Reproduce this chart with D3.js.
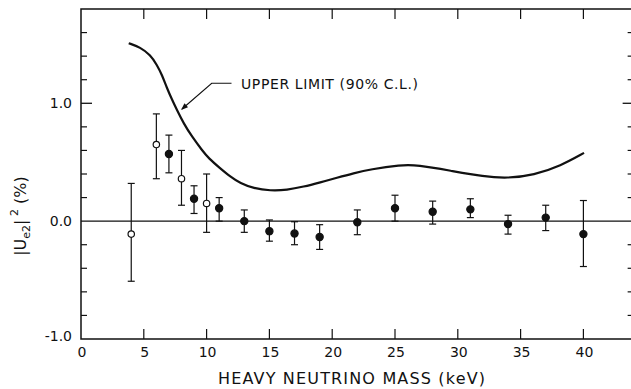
<!DOCTYPE html>
<html>
<head>
<meta charset="utf-8">
<script src="https://cdn.jsdelivr.net/npm/d3@7"></script>
<style>
  body { margin: 0; background: #fff; }
  text { font-family: "DejaVu Sans", sans-serif; fill: #111; }
</style>
</head>
<body>
<div id="plot"></div>
<script>
// Data
const masses = [4, 6, 7, 8, 9, 10, 11, 13, 15, 17, 19, 22, 25, 28, 31, 34, 37, 40];
const values = [-0.11, 0.65, 0.57, 0.36, 0.19, 0.15, 0.11, 0.0, -0.085, -0.105, -0.135, -0.01, 0.11, 0.08, 0.10, -0.025, 0.03, -0.11];
const errTop = [0.32, 0.91, 0.73, 0.60, 0.30, 0.40, 0.20, 0.095, 0.01, -0.005, -0.03, 0.095, 0.22, 0.17, 0.19, 0.05, 0.135, 0.175];
const errBot = [-0.51, 0.36, 0.41, 0.135, 0.065, -0.095, 0.0, -0.095, -0.17, -0.20, -0.24, -0.115, 0.0, -0.025, 0.03, -0.11, -0.08, -0.385];
const openPoint = [true, true, false, true, false, true, false, false, false, false, false, false, false, false, false, false, false, false];

// 90% C.L. upper limit curve
const limitMass = [3.8, 4.72, 5.52, 6.05, 6.45, 6.85, 7.25, 7.64, 8.17, 8.84, 9.63, 10.16, 11.09, 11.89, 12.68, 13.74, 15.07, 16.4, 17.72, 19.05, 20.38, 21.7, 23.03, 25.44, 26.77, 29.43, 32.08, 33.94, 36.06, 38.2, 40.05];
const limitValue = [1.51, 1.475, 1.41, 1.325, 1.24, 1.127, 1.03, 0.943, 0.83, 0.716, 0.603, 0.533, 0.448, 0.377, 0.321, 0.278, 0.258, 0.264, 0.292, 0.329, 0.368, 0.406, 0.44, 0.477, 0.477, 0.428, 0.378, 0.363, 0.391, 0.47, 0.579];

const xTicks = [0, 5, 10, 15, 20, 25, 30, 35, 40];
const yMinor = [-0.8, -0.6, -0.4, -0.2, 0.2, 0.4, 0.6, 0.8, 1.2, 1.4, 1.6];
const yLabels = [-1.0, 0.0, 1.0];

const width = 631, height = 389;
const plotLeft = 81, plotTop = 9, plotBottom = 339;

const x = d3.scaleLinear().domain([0, 44]).range([plotLeft, plotLeft + 44 * 12.56]);
const y = d3.scaleLinear().domain([-1, 1.8]).range([plotBottom, plotTop]);
const plotRight = x(44);

const svg = d3.select("#plot").append("svg")
    .attr("width", width)
    .attr("height", height);

// frame
svg.append("path")
    .attr("d", `M${plotLeft},${plotBottom}V${plotTop}H${plotRight}V${plotBottom}Z`)
    .attr("fill", "none")
    .attr("stroke", "#111")
    .attr("stroke-width", 1.5);

// zero line
svg.append("line")
    .attr("x1", plotLeft).attr("x2", plotRight)
    .attr("y1", y(0)).attr("y2", y(0))
    .attr("stroke", "#111").attr("stroke-width", 1.1);

// x ticks, top and bottom, pointing inward
const xt = xTicks.filter(d => d > 0);
svg.selectAll(".xb").data(xt).enter().append("line")
    .attr("x1", d => x(d)).attr("x2", d => x(d))
    .attr("y1", plotBottom).attr("y2", plotBottom - 10)
    .attr("stroke", "#111").attr("stroke-width", 1.2);
svg.selectAll(".xt").data(xt).enter().append("line")
    .attr("x1", d => x(d)).attr("x2", d => x(d))
    .attr("y1", plotTop).attr("y2", plotTop + 10)
    .attr("stroke", "#111").attr("stroke-width", 1.2);

svg.selectAll(".xl").data(xTicks).enter().append("text")
    .attr("x", d => x(d) + 1)
    .attr("y", 357)
    .attr("text-anchor", "middle")
    .style("font-size", "14px")
    .text(d => d);

// y ticks, left and right
svg.selectAll(".yl").data(yMinor).enter().append("line")
    .attr("x1", plotLeft).attr("x2", plotLeft + 6)
    .attr("y1", d => y(d)).attr("y2", d => y(d))
    .attr("stroke", "#111").attr("stroke-width", 1.2);
svg.selectAll(".yr").data(yMinor).enter().append("line")
    .attr("x1", plotRight).attr("x2", plotRight - 6)
    .attr("y1", d => y(d)).attr("y2", d => y(d))
    .attr("stroke", "#111").attr("stroke-width", 1.2);
[1.0].forEach(v => {
    svg.append("line").attr("x1", plotLeft).attr("x2", plotLeft + 11)
        .attr("y1", y(v)).attr("y2", y(v)).attr("stroke", "#111").attr("stroke-width", 1.3);
    svg.append("line").attr("x1", plotRight).attr("x2", plotRight - 11)
        .attr("y1", y(v)).attr("y2", y(v)).attr("stroke", "#111").attr("stroke-width", 1.3);
});

svg.selectAll(".ylab").data(yLabels).enter().append("text")
    .attr("x", 72)
    .attr("y", d => (d === -1 ? y(d) - 3 : y(d)) + 5)
    .attr("text-anchor", "end")
    .style("font-size", "14px")
    .text(d => (d < 0 ? "-" : "") + Math.abs(d).toFixed(1));

// upper limit curve
const line = d3.line()
    .x((d, i) => x(limitMass[i]))
    .y(d => y(d))
    .curve(d3.curveBasis);
svg.append("path")
    .datum(limitValue)
    .attr("d", line)
    .attr("fill", "none")
    .attr("stroke", "#111")
    .attr("stroke-width", 2.2);

// error bars
const pts = masses.map((m, i) => ({ m, v: values[i], hi: errTop[i], lo: errBot[i], open: openPoint[i] }));
const bars = svg.append("g").attr("stroke", "#111").attr("stroke-width", 1.2);
pts.forEach(d => {
    bars.append("line").attr("x1", x(d.m)).attr("x2", x(d.m)).attr("y1", y(d.hi)).attr("y2", y(d.lo));
    bars.append("line").attr("x1", x(d.m) - 3.5).attr("x2", x(d.m) + 3.5).attr("y1", y(d.hi)).attr("y2", y(d.hi));
    bars.append("line").attr("x1", x(d.m) - 3.5).attr("x2", x(d.m) + 3.5).attr("y1", y(d.lo)).attr("y2", y(d.lo));
});

svg.selectAll(".pt").data(pts).enter().append("circle")
    .attr("cx", d => x(d.m))
    .attr("cy", d => y(d.v))
    .attr("r", d => d.open ? 3.2 : 3.6)
    .attr("fill", d => d.open ? "#fff" : "#111")
    .attr("stroke", "#111")
    .attr("stroke-width", 1.2);

// annotation
svg.append("path")
    .attr("d", "M231.5,83.3H211.7L182,109")
    .attr("fill", "none")
    .attr("stroke", "#111")
    .attr("stroke-width", 1.1);
svg.append("path")
    .attr("d", "M181,110L184.5,103.2L188,107.2Z")
    .attr("fill", "#111");
svg.append("text")
    .attr("x", 241)
    .attr("y", 88.5)
    .attr("textLength", 177)
    .style("font-size", "14px")
    .text("UPPER LIMIT (90% C.L.)");

// axis titles
svg.append("text")
    .attr("x", 218)
    .attr("y", 384)
    .attr("textLength", 267)
    .style("font-size", "16px")
    .text("HEAVY NEUTRINO MASS (keV)");

const yt = svg.append("text")
    .attr("transform", "translate(26,216) rotate(-90)")
    .attr("text-anchor", "middle")
    .style("font-size", "16px");
yt.append("tspan").text("|U");
yt.append("tspan").attr("dy", 4).style("font-size", "11px").text("e2");
yt.append("tspan").attr("dy", -4).text("|");
yt.append("tspan").attr("dy", -8).style("font-size", "11px").text(" 2");
yt.append("tspan").attr("dy", 8).text("  (%)");
</script>
</body>
</html>
